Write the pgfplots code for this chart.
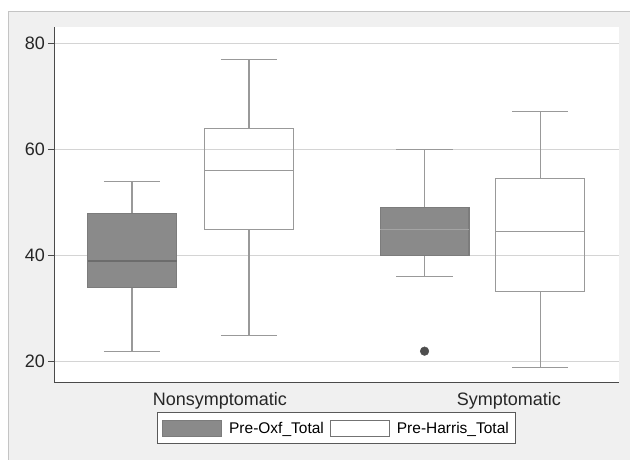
\documentclass[border=0pt]{standalone}
\usepackage{fontspec}
\setmainfont{Liberation Sans}
\usepackage{pgfplots}
\pgfplotsset{compat=1.18}
\usepgfplotslibrary{statistics}
\definecolor{panel}{HTML}{F0F0F0}
\definecolor{panelborder}{HTML}{C4C4C4}
\definecolor{axiscol}{HTML}{4A4A4A}
\definecolor{gridcol}{HTML}{D4D4D4}
\definecolor{darkfill}{HTML}{8A8A8A}
\definecolor{darkline}{HTML}{7C7C7C}
\definecolor{whisk}{HTML}{999999}
\definecolor{medA}{HTML}{6C6C6C}
\definecolor{medB}{HTML}{A4A4A4}
\definecolor{outcol}{HTML}{4E4E4E}
\begin{document}
\begin{tikzpicture}
\path[use as bounding box] (0pt,0pt) rectangle (630pt,460pt);
\fill[panel] (8pt,0pt) rectangle (630pt,449pt);
\draw[panelborder, line width=1.2pt] (8.5pt,0pt) -- (8.5pt,448.5pt) -- (630pt,448.5pt);
\begin{axis}[
  at={(54pt,77pt)}, anchor=south west,
  width=565pt, height=356pt, scale only axis,
  xmin=0.333, xmax=5.162, ymin=16, ymax=83.1,
  axis x line*=bottom, axis y line*=left,
  axis line style={draw=axiscol, line width=1pt},
  axis background/.style={fill=white},
  ytick={20,40,60,80},
  xtick={1.75,4.22},
  xticklabels={Nonsymptomatic,Symptomatic},
  x tick style={draw=none},
  y tick style={draw=axiscol, line width=0.9pt},
  tick align=outside, major tick length=6pt,
  ymajorgrids, grid style={draw=gridcol, line width=1.3pt},
  tick label style={font=\fontsize{18}{20}\selectfont, text=black!85},
  yticklabel style={inner sep=3pt},
  /pgf/number format/assume math mode=true,
  legend image code/.code={\draw[#1] (0pt,-8pt) rectangle (59pt,8pt);},
  legend columns=2,
  legend style={at={(0.5,-0.1278)}, anchor=center, draw=black!65, line width=1pt,
    fill=white, font=\fontsize{15.5}{18}\selectfont, inner xsep=5pt, inner ysep=7pt,
    /tikz/every odd column/.append style={column sep=5pt},
    /tikz/every even column/.append style={column sep=4pt}},
  boxplot/draw direction=y,
]
\addlegendimage{draw=darkline, fill=darkfill, line width=1pt}
\addlegendentry{Pre-Oxf\_Total}
\addlegendimage{draw=black!55, fill=white, line width=1pt}
\addlegendentry{Pre-Harris\_Total}
% Nonsymptomatic, Pre-Oxf_Total
\addplot+[boxplot prepared={draw position=1, lower whisker=22,
  lower quartile=34, median=39, upper quartile=48, upper whisker=54,
  box extend=0.76, whisker extend=0.48},
  draw=whisk, line width=1.1pt, solid, mark=none,
  boxplot/every box/.style={draw=darkline, fill=darkfill},
  boxplot/every median/.style={draw=medA}]
  coordinates {};
% Nonsymptomatic, Pre-Harris_Total
\addplot+[boxplot prepared={draw position=2, lower whisker=25,
  lower quartile=45, median=56, upper quartile=64, upper whisker=77,
  box extend=0.76, whisker extend=0.48},
  draw=whisk, line width=1.1pt, solid, mark=none,
  boxplot/every box/.style={draw=whisk, fill=none}]
  coordinates {};
% Symptomatic, Pre-Oxf_Total
\addplot+[boxplot prepared={draw position=3.5, lower whisker=36,
  lower quartile=40, median=45, upper quartile=49, upper whisker=60,
  box extend=0.76, whisker extend=0.48},
  draw=whisk, line width=1.1pt, solid,
  boxplot/every box/.style={draw=darkline, fill=darkfill},
  boxplot/every median/.style={draw=medB},
  mark=*, mark size=4.3pt, mark options={draw=outcol, fill=outcol, line width=0.5pt}]
  table[row sep=\\, y index=0] {data\\ 22\\};
% Symptomatic, Pre-Harris_Total
\addplot+[boxplot prepared={draw position=4.49, lower whisker=19,
  lower quartile=33.3, median=44.5, upper quartile=54.6, upper whisker=67.1,
  box extend=0.76, whisker extend=0.48},
  draw=whisk, line width=1.1pt, solid, mark=none,
  boxplot/every box/.style={draw=whisk, fill=none}]
  coordinates {};
\end{axis}
\end{tikzpicture}
\end{document}
